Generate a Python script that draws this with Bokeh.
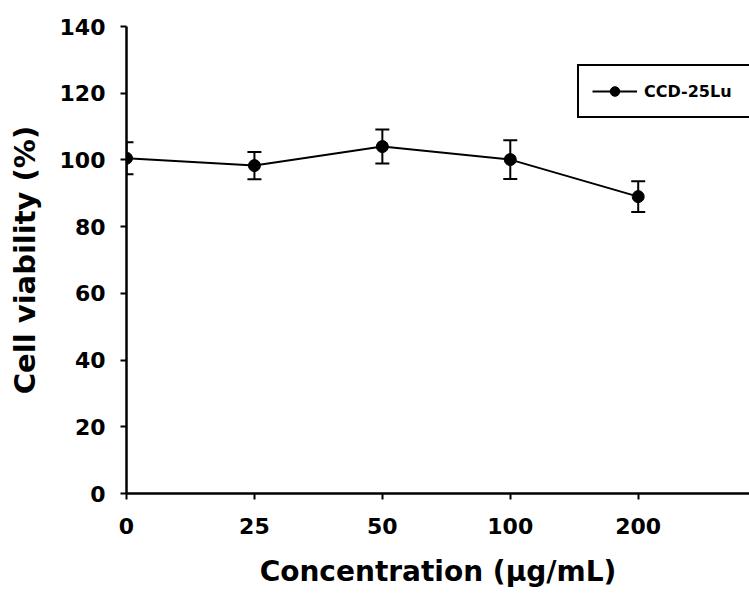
from bokeh.plotting import figure
from bokeh.models import ColumnDataSource, Whisker, Range1d, FixedTicker, Legend, LegendItem
from bokeh.embed import file_html
from bokeh.resources import INLINE

conc_labels = ["0", "25", "50", "100", "200"]
xpos = [0, 1, 2, 3, 4]
viability = [100.5, 98.3, 104.0, 100.1, 89.0]
err = [4.8, 4.1, 5.1, 5.8, 4.6]

y_ticks = [0, 20, 40, 60, 80, 100, 120, 140]

lower = [v - e for v, e in zip(viability, err)]
upper = [v + e for v, e in zip(viability, err)]
src = ColumnDataSource(dict(x=xpos, y=viability, lower=lower, upper=upper))

FONT = "DejaVu Sans"

p = figure(width=749, height=595, output_backend="svg", toolbar_location=None,
           x_range=Range1d(0, 4.87), y_range=Range1d(0, 140),
           min_border_left=126, min_border_top=26, min_border_bottom=102, min_border_right=0)
p.outline_line_color = None
p.xgrid.visible = False
p.ygrid.visible = False

line = p.line("x", "y", source=src, line_color="black", line_width=2)
dots = p.scatter("x", "y", source=src, marker="circle", size=12, fill_color="black", line_color="black")
wh = Whisker(source=src, base="x", lower="lower", upper="upper", line_color="black", line_width=2)
wh.upper_head.size = 14
wh.lower_head.size = 14
wh.upper_head.line_width = 2
wh.lower_head.line_width = 2
p.add_layout(wh)

for ax in (p.xaxis[0], p.yaxis[0]):
    ax.axis_line_width = 2.5
    ax.axis_line_color = "black"
    ax.major_tick_line_width = 2
    ax.major_tick_line_color = "black"
    ax.major_tick_in = 0
    ax.major_tick_out = 6
    ax.minor_tick_line_color = None
    ax.major_label_text_font = FONT
    ax.major_label_text_font_style = "bold"
    ax.major_label_text_font_size = "22px"
    ax.major_label_text_color = "black"
    ax.axis_label_text_font = FONT
    ax.axis_label_text_font_style = "bold"
    ax.axis_label_text_color = "black"

p.xaxis.ticker = FixedTicker(ticks=xpos)
p.xaxis.major_label_overrides = {x: l for x, l in zip(xpos, conc_labels)}
p.xaxis.major_label_standoff = 18
p.xaxis.axis_label = "Concentration (µg/mL)"
p.xaxis.axis_label_text_font_size = "28px"
p.xaxis.axis_label_standoff = 18

p.yaxis.ticker = FixedTicker(ticks=y_ticks)
p.yaxis.major_label_standoff = 15
p.yaxis.axis_label = "Cell viability (%)"
p.yaxis.axis_label_text_font_size = "29px"
p.yaxis.axis_label_standoff = 15

legend = Legend(items=[LegendItem(label="CCD-25Lu", renderers=[line, dots])],
                location=(451, 375))
legend.border_line_color = "black"
legend.border_line_width = 2
legend.border_line_alpha = 1
legend.label_text_font = FONT
legend.label_text_font_style = "bold"
legend.label_text_font_size = "16px"
legend.label_text_color = "black"
legend.glyph_width = 45
legend.glyph_height = 24
legend.label_standoff = 7
legend.label_width = 140
legend.padding = 13
legend.margin = 0
legend.background_fill_alpha = 1
p.add_layout(legend)

open("out.html", "w").write(file_html(p, INLINE))
